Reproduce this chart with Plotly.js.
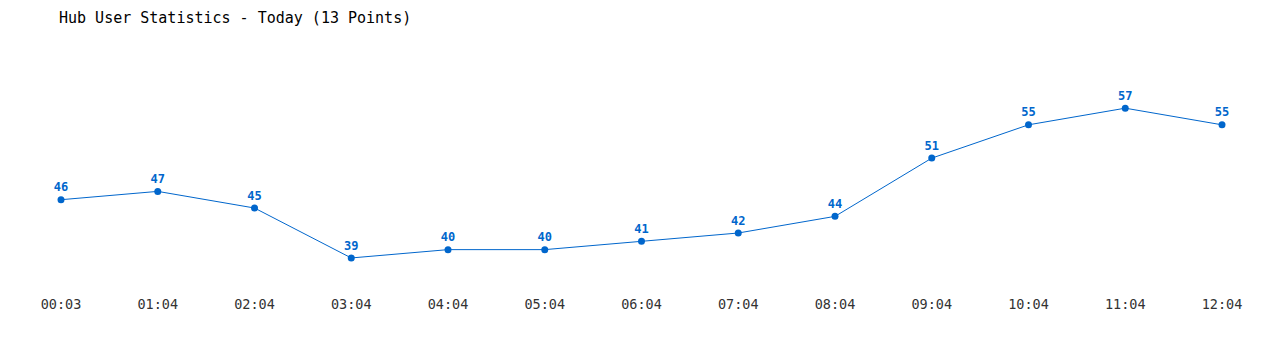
<!DOCTYPE html>
<html>
<head>
<meta charset="utf-8">
<script src="https://cdn.plot.ly/plotly-3.0.1.min.js"></script>
<style>html,body{margin:0;padding:0;background:#fff;}#chart{width:1280px;height:350px;}</style>
</head>
<body>
<div id="chart"></div>
<script>
const times = ["00:03","01:04","02:04","03:04","04:04","05:04","06:04","07:04","08:04","09:04","10:04","11:04","12:04"];
const users = [46,47,45,39,40,40,41,42,44,51,55,57,55];
const chartTitle = "Hub User Statistics - Today (13 Points)";

const trace = {
  x: times.map((t,i)=>i),
  y: users,
  type: "scatter",
  mode: "lines+markers+text",
  line: {color: "#0066cc", width: 1},
  marker: {color: "#0066cc", size: 7},
  text: users.map(String),
  textposition: "top center",
  textfont: {family: "DejaVu Sans Mono, monospace", size: 12, color: "#0066cc", weight: "bold"},
  cliponaxis: false,
  hoverinfo: "skip"
};

const layout = {
  width: 1280, height: 350,
  paper_bgcolor: "#fff", plot_bgcolor: "#fff",
  margin: {l: 61, r: 58, t: 57, b: 60},
  showlegend: false,
  title: {text: chartTitle, x: 59/1280, xanchor: "left", y: 1-18/350, yanchor: "middle",
    font: {family: "DejaVu Sans Mono, monospace", size: 15, color: "#000"}},
  xaxis: {range: [0, 12], tickvals: times.map((t,i)=>i), ticktext: times,
    showgrid: false, zeroline: false, showline: false, ticks: "",
    tickfont: {family: "DejaVu Sans Mono, monospace", size: 13.5, color: "#333"}, ticklen: 0, ticklabelstandoff: 4},
  yaxis: {range: [35.15, 63.15], showgrid: false, zeroline: false, showline: false, showticklabels: false, ticks: ""}
};

Plotly.newPlot("chart", [trace], layout, {displayModeBar: false, staticPlot: true});
</script>
</body>
</html>
